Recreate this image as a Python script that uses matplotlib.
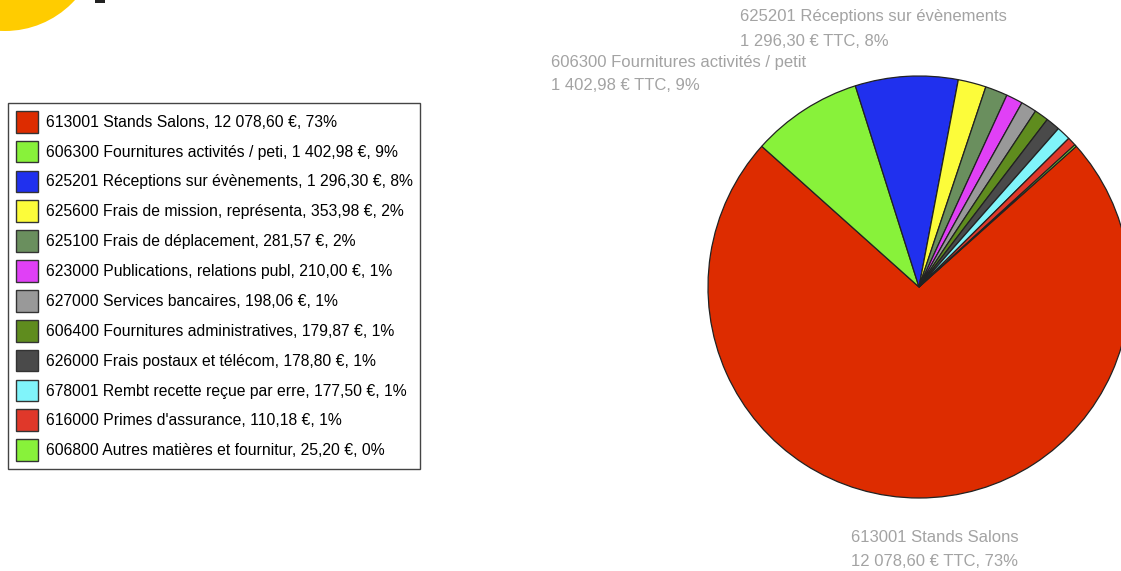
import matplotlib.pyplot as plt
from matplotlib.patches import Patch, Circle, Rectangle

plt.rcParams['font.family'] = ['Liberation Sans', 'DejaVu Sans']

# data
codes = ['613001', '606300', '625201', '625600', '625100', '623000',
         '627000', '606400', '626000', '678001', '616000', '606800']
names = ['Stands Salons', 'Fournitures activités / peti', 'Réceptions sur évènements',
         'Frais de mission, représenta', 'Frais de déplacement',
         'Publications, relations publ', 'Services bancaires',
         'Fournitures administratives', 'Frais postaux et télécom',
         'Rembt recette reçue par erre', "Primes d'assurance",
         'Autres matières et fournitur']
amounts = [12078.60, 1402.98, 1296.30, 353.98, 281.57, 210.00,
           198.06, 179.87, 178.80, 177.50, 110.18, 25.20]
colors = ['#dd2c00', '#88f23a', '#2030ee', '#fcfc3a', '#6a8f5e', '#e040f6',
          '#999999', '#5f8c1e', '#4a4a4a', '#80f4fa', '#e0382a', '#88f23a']

# outside labels for the three biggest slices
callouts = {
    '613001': ('613001 Stands Salons', 851, 537),
    '606300': ('606300 Fournitures activités / petit', 551, 62),
    '625201': ('625201 Réceptions sur évènements', 740, 17),
}


def fr(v):
    s = f'{v:,.2f}'
    return s.replace(',', ' ').replace('.', ',')


total = sum(amounts)
pcts = [round(a / total * 100) for a in amounts]

W, H = 1121, 571
fig = plt.figure(figsize=(W / 100, H / 100), dpi=100)

# pie
cx, cy, r = 919, 287, 211
ax = fig.add_axes([(cx - r) / W, (H - cy - r) / H, 2 * r / W, 2 * r / H])
red_span = amounts[0] / total * 360
wedges, _ = ax.pie(amounts, colors=colors, counterclock=False,
                   startangle=-90 + red_span / 2, radius=1,
                   wedgeprops=dict(edgecolor='#222222', linewidth=0.9))
ax.set_xlim(-1, 1)
ax.set_ylim(-1, 1)
ax.set_aspect('equal')
ax.axis('off')

for i, c in enumerate(codes):
    if c in callouts:
        t, x, y = callouts[c]
        fig.text(x / W, 1 - y / H, t, color='#a3a3a3', fontsize=12, va='center', ha='left')
        fig.text(x / W, 1 - (y + 24) / H, f'{fr(amounts[i])} € TTC, {pcts[i]}%',
                 color='#a3a3a3', fontsize=12, va='center', ha='left')

# legend
handles = [Patch(facecolor=col, edgecolor='#333333', linewidth=1.0) for col in colors]
labels = [f'{c} {n}, {fr(a)} €, {p}%' for c, n, a, p in zip(codes, names, amounts, pcts)]
leg = fig.legend(handles, labels, loc='upper left',
                 bbox_to_anchor=(8 / W, 1 - 103 / H), fontsize=11.3,
                 handlelength=1.4, handleheight=1.75, handletextpad=0.5,
                 labelspacing=0.52, borderpad=0.5, borderaxespad=0,
                 fancybox=False, framealpha=1)
leg.get_frame().set_edgecolor('#444444')
leg.get_frame().set_linewidth(1.0)

# bits of the page header cut at the top
fig.patches.append(Circle((5, H + 63.5), 94.5, transform=None, facecolor='#ffcc00',
                          edgecolor='none'))
fig.patches.append(Rectangle((95, H - 3), 10, 3, transform=None, facecolor='#222222',
                             edgecolor='none'))

fig.savefig('out.png', dpi=100)
